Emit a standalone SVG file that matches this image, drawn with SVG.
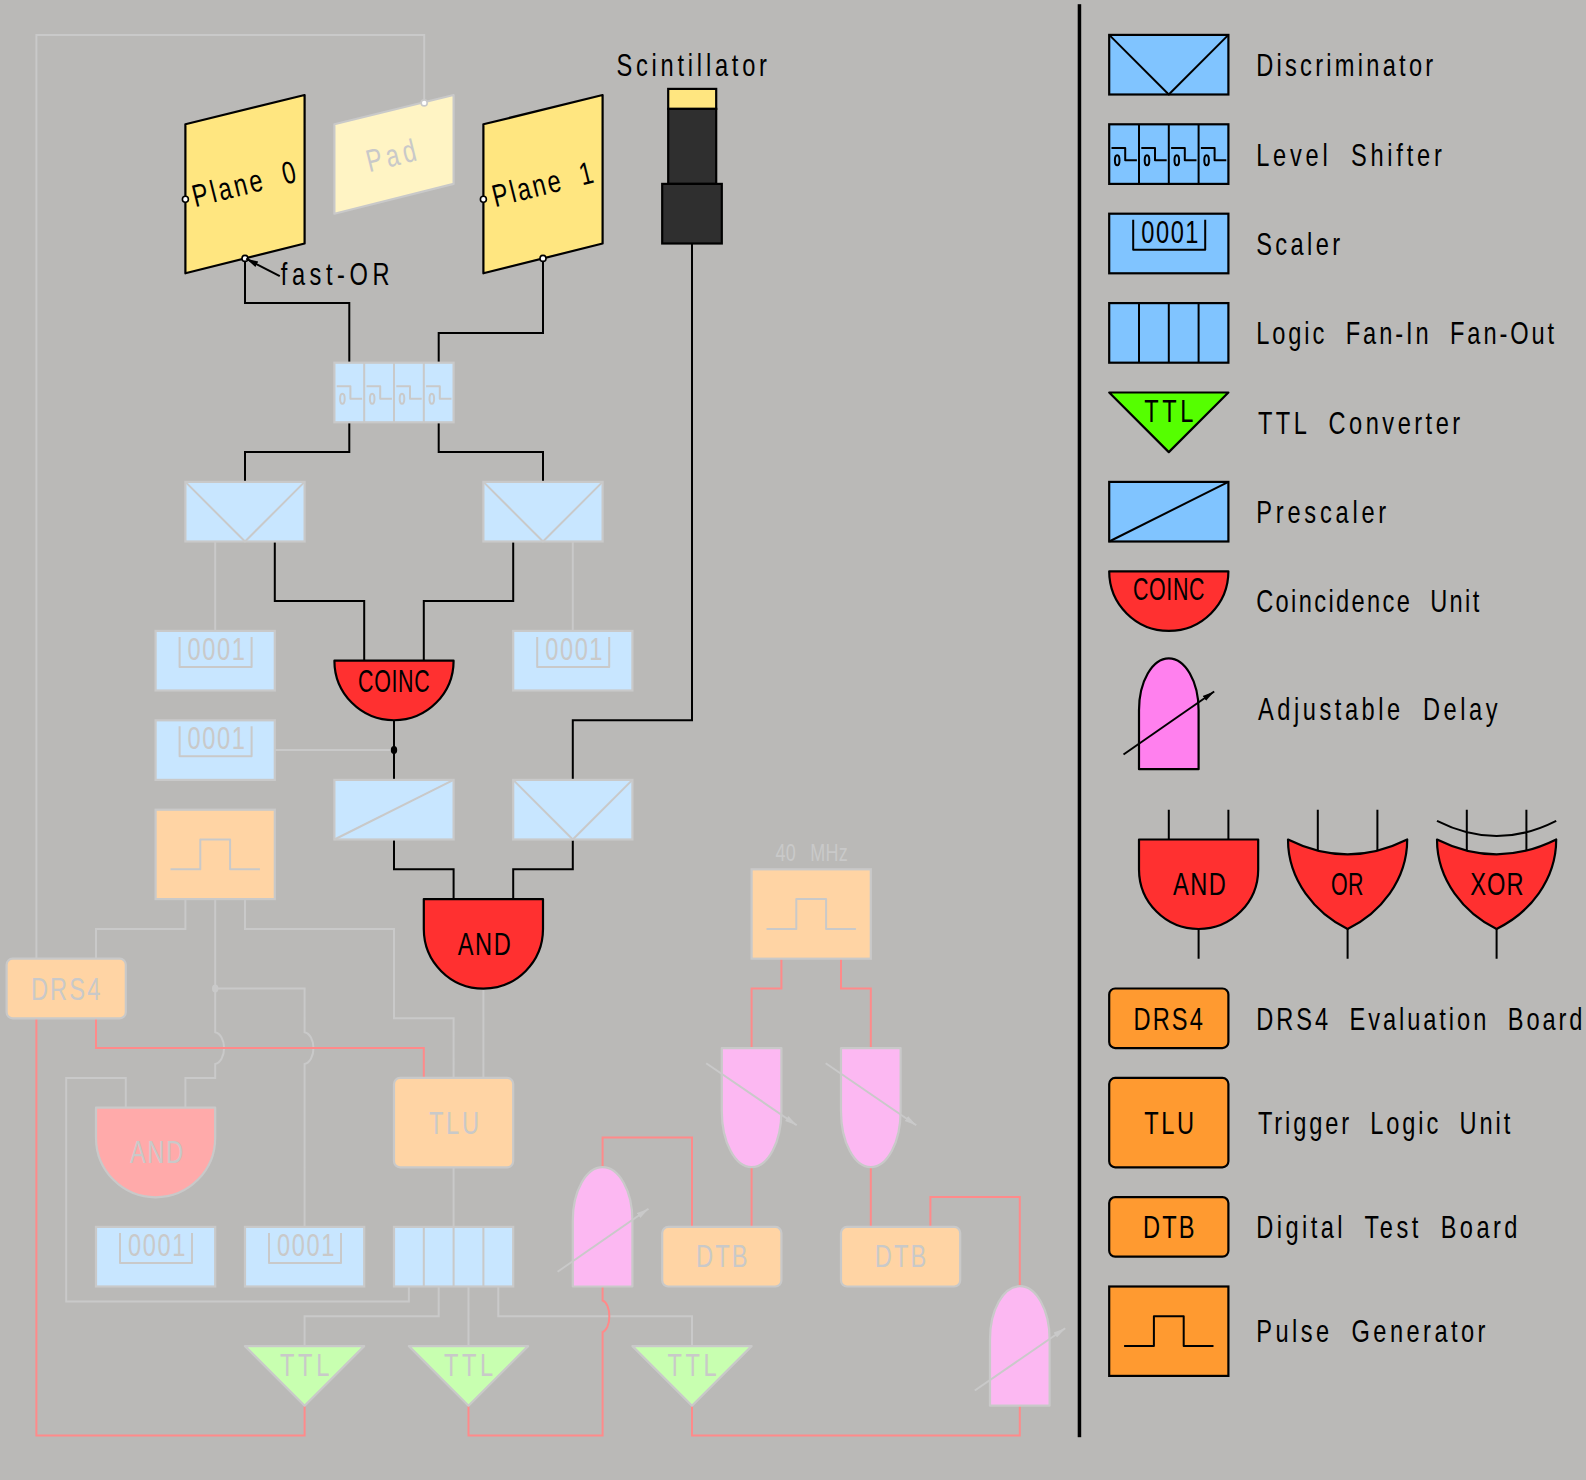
<svg xmlns="http://www.w3.org/2000/svg" width="1586" height="1480" viewBox="0 0 1586 1480">
<style>
text{font-family:"Liberation Sans",Arial,sans-serif;font-size:31.5px;word-spacing:12px}
polygon,path{stroke-linejoin:round}
.k{fill:#000}.g{fill:#c9c9c9}
.ln{fill:none;stroke-width:2;stroke-linejoin:miter}
.lk{stroke:#000}.lg{stroke:#c9c9c9}.lr{stroke:#ff8a8a}
.s{fill:none;stroke:#000;stroke-width:2}
.sg{fill:none;stroke:#c9c9c9;stroke-width:2}
.bb,.bf,.ry,.rf,.oy,.of,.gy,.gf,.my,.mf,.yy,.yf,.pk,.pg{stroke-width:2.2}
.bb{fill:#80c4ff;stroke:#000}.bf{fill:#c8e6ff;stroke:#c9c9c9}
.ry{fill:#ff3030;stroke:#000}.rf{fill:#ffaaaa;stroke:#c9c9c9}
.oy{fill:#ff9a30;stroke:#000}.of{fill:#ffd4a4;stroke:#c9c9c9}
.gy{fill:#55ff00;stroke:#000}.gf{fill:#c8ffb0;stroke:#c9c9c9}
.my{fill:#ff80ee;stroke:#000}.mf{fill:#fcb8f2;stroke:#c9c9c9}
.yy{fill:#ffe680;stroke:#000}.yf{fill:#fff4c4;stroke:#c9c9c9}
.dk{fill:#2f2f2f;stroke:#000;stroke-width:2.2}
.tk{fill:#fff;stroke:#000;stroke-width:1.6}.tg{fill:#fff;stroke:#c9c9c9;stroke-width:1.6}
.arr{stroke:#000;stroke-width:2;marker-end:url(#ak)}.arg{stroke:#c9c9c9;stroke-width:2;marker-end:url(#ag)}
</style>
<defs>
<marker id="ak" markerUnits="userSpaceOnUse" markerWidth="14" markerHeight="10" refX="12" refY="4" orient="auto"><path d="M0,1 L12,4 L0,7Z" fill="#000"/></marker>
<marker id="ag" markerUnits="userSpaceOnUse" markerWidth="14" markerHeight="10" refX="12" refY="4" orient="auto"><path d="M0,1 L12,4 L0,7Z" fill="#c9c9c9"/></marker>
<path id="vv" d="M0,0 L59.6,59.6 L119.2,0"/>
<path id="dg" d="M0,59.6 L119.2,0"/>
<path id="fan" d="M29.8,0V59.6M59.6,0V59.6M89.4,0V59.6"/>
<path id="brk" d="M24,6V36H96V6"/>
<path id="pul" d="M14.9,59.6H44.7V29.8H74.5V59.6H104.3"/>
<g id="ls">
<path d="M29.8,0V59.6M59.6,0V59.6M89.4,0V59.6M2.3,23.6H16V36H27.7M32.1,23.6H45.8V36H57.5M61.9,23.6H75.6V36H87.3M91.7,23.6H105.4V36H117.1"/>
<ellipse cx="8" cy="36" rx="2.3" ry="5"/><ellipse cx="37.8" cy="36" rx="2.3" ry="5"/><ellipse cx="67.6" cy="36" rx="2.3" ry="5"/><ellipse cx="97.4" cy="36" rx="2.3" ry="5"/>
</g>
</defs>
<rect width="1586" height="1480" fill="#bab9b7"/>
<g transform="translate(.2 .2)">
<rect id="divider" x="1077.5" y="4" width="3.5" height="1433" fill="#000"/>

<g id="connectors">
<path class="ln lk" d="M244.8,258V302.9H349.1V362.5M542.8,258V332.7H438.5V362.5M349.1,422.1V451.9H244.8V481.7M438.5,422.1V451.9H542.8V481.7M274.6,541.3V600.9H364V660.5M513,541.3V600.9H423.6V660.5M691.8,243.3V720.1H572.6V779.7M393.8,720.1V779.7M393.8,839.3V869.1H453.4V898.9M572.6,839.3V869.1H513V898.9"/>
<path class="ln lg" d="M424,102.7V34.7H36.2V958.5M215,541.3V630.7M572.6,541.3V630.7M274.6,749.9H393.8M185.2,898.9V928.7H95.8V958.5M215,898.9V1032A10,16 0 0 1 215,1063.8V1077.7H185.2V1107.5M215,988.3H304.4V1032A10,16 0 0 1 304.4,1063.8V1226.7M244.8,898.9V928.7H393.8V1018.1H453.4V1077.7M483.2,988.3V1077.7M453.4,1167.1V1226.7M125.6,1107.5V1077.7H66V1301.2H408.7V1286.3M438.5,1286.3V1316.1H304.4V1345.9M468.3,1286.3V1345.9M498.1,1286.3V1316.1H691.8V1345.9"/>
<path class="ln lr" d="M95.8,1018.1V1047.9H423.6V1077.7M36.2,1018.1V1435.3H304.4V1405.5M468.3,1405.5V1435.3H602.4V1331.9A8,16 0 0 0 602.4,1300.3V1286.3M602.4,1167.1V1137.3H691.8V1226.7M781.2,958.5V988.3H751.4V1047.9M840.8,958.5V988.3H870.6V1047.9M751.4,1167.1V1226.7M870.6,1167.1V1226.7M930.2,1226.7V1196.9H1019.6V1286.3M691.8,1405.5V1435.3H1019.6V1405.5"/>
<ellipse cx="393.8" cy="749.9" rx="3.2" ry="4" fill="#000"/>
<ellipse cx="215" cy="988.3" rx="3.2" ry="4" fill="#c9c9c9"/>
</g>

<g id="plane0"><polygon class="yy" points="185.2,124.1 304.4,94.8 304.4,243.3 185.2,273.1"/><circle class="tk" cx="185.2" cy="199" r="3"/><circle class="tk" cx="244.8" cy="258.2" r="3"/><text class="k" transform="translate(195 207) rotate(-14) scale(.75 1)" textLength="141">Plane 0</text></g>
<g id="pad"><polygon class="yf" points="334.2,124.1 453.4,94.8 453.4,183.7 334.2,213.5"/><circle class="tg" cx="424" cy="102.7" r="3"/><text class="g" transform="translate(369 172) rotate(-14) scale(.75 1)" textLength="67">Pad</text></g>
<g id="plane1"><polygon class="yy" points="483.2,124.1 602.4,94.8 602.4,243.3 483.2,273.1"/><circle class="tk" cx="483.2" cy="199" r="3"/><circle class="tk" cx="542.8" cy="258.2" r="3"/><text class="k" transform="translate(495 207) rotate(-14) scale(.75 1)" textLength="137">Plane 1</text></g>
<g id="fast-or"><line class="arr" x1="279.6" y1="276" x2="246" y2="258.5"/><text class="k" transform="matrix(.75 0 0 1 280.6 284.3)" textLength="145">fast-OR</text></g>
<g id="scintillator"><rect class="yy" x="668" y="88.7" width="48" height="20"/><rect class="dk" x="668" y="108.7" width="48" height="75"/><rect class="dk" x="662" y="183.7" width="59.6" height="59.6"/><text class="k" transform="matrix(.75 0 0 1 616.3 75.3)" textLength="200.6">Scintillator</text></g>

<g id="level-shifter"><rect class="bf" x="334.2" y="362.5" width="119.2" height="59.6"/><use class="sg" href="#ls" x="334.2" y="362.5"/></g>
<g id="disc0"><rect class="bf" x="185.2" y="481.7" width="119.2" height="59.6"/><use class="sg" href="#vv" x="185.2" y="481.7"/></g>
<g id="disc1"><rect class="bf" x="483.2" y="481.7" width="119.2" height="59.6"/><use class="sg" href="#vv" x="483.2" y="481.7"/></g>
<g id="scaler0"><rect class="bf" x="155.4" y="630.7" width="119.2" height="59.6"/><use class="sg" href="#brk" x="155.4" y="630.7"/><text class="g" transform="matrix(.75 0 0 1 187.4 659.3)" textLength="76.4">0001</text></g>
<g id="scaler1"><rect class="bf" x="513" y="630.7" width="119.2" height="59.6"/><use class="sg" href="#brk" x="513" y="630.7"/><text class="g" transform="matrix(.75 0 0 1 545 659.3)" textLength="76.4">0001</text></g>
<g id="scaler2"><rect class="bf" x="155.4" y="720.1" width="119.2" height="59.6"/><use class="sg" href="#brk" x="155.4" y="720.1"/><text class="g" transform="matrix(.75 0 0 1 187.4 748.7)" textLength="76.4">0001</text></g>
<g id="coinc"><path class="ry" d="M334.2,660.5H453.4A59.6,59.6 0 0 1 334.2,660.5Z"/><text class="k" transform="matrix(.68 0 0 1 357.9 692)" textLength="105.3">COINC</text></g>
<g id="prescaler"><rect class="bf" x="334.2" y="779.7" width="119.2" height="59.6"/><use class="sg" href="#dg" x="334.2" y="779.7"/></g>
<g id="disc2"><rect class="bf" x="513" y="779.7" width="119.2" height="59.6"/><use class="sg" href="#vv" x="513" y="779.7"/></g>
<g id="pulse0"><rect class="of" x="155.4" y="809.5" width="119.2" height="89.4"/><use class="sg" href="#pul" x="155.4" y="809.5"/></g>
<g id="and-main"><path class="ry" d="M423.6,898.9H542.8V928.9A59.6,59.6 0 0 1 423.6,928.9Z"/><text class="k" transform="matrix(.75 0 0 1 457.6 954.3)" textLength="70.7">AND</text></g>
<g id="drs4"><rect class="of" x="6.4" y="958.5" width="119.2" height="59.6" rx="6"/><text class="g" transform="matrix(.75 0 0 1 30.7 999.3)" textLength="92.5">DRS4</text></g>
<g id="and-pale"><path class="rf" d="M95.8,1107.5H215V1137.5A59.6,59.6 0 0 1 95.8,1137.5Z"/><text class="g" transform="matrix(.75 0 0 1 129.8 1163)" textLength="70.7">AND</text></g>
<g id="tlu"><rect class="of" x="393.8" y="1077.7" width="119.2" height="89.4" rx="6"/><text class="g" transform="matrix(.75 0 0 1 428.8 1133.3)" textLength="66.6">TLU</text></g>
<g id="scaler3"><rect class="bf" x="95.8" y="1226.7" width="119.2" height="59.6"/><use class="sg" href="#brk" x="95.8" y="1226.7"/><text class="g" transform="matrix(.75 0 0 1 127.8 1255.3)" textLength="76.4">0001</text></g>
<g id="scaler4"><rect class="bf" x="244.8" y="1226.7" width="119.2" height="59.6"/><use class="sg" href="#brk" x="244.8" y="1226.7"/><text class="g" transform="matrix(.75 0 0 1 276.8 1255.3)" textLength="76.4">0001</text></g>
<g id="fan-main"><rect class="bf" x="393.8" y="1226.7" width="119.2" height="59.6"/><use class="sg" href="#fan" x="393.8" y="1226.7"/></g>
<g id="ttl0"><polygon class="gf" points="244.8,1345.9 364,1345.9 304.4,1405.5"/><text class="g" transform="matrix(.75 0 0 1 279.8 1375.3)" textLength="65.7">TTL</text></g>
<g id="ttl1"><polygon class="gf" points="408.7,1345.9 527.9,1345.9 468.3,1405.5"/><text class="g" transform="matrix(.75 0 0 1 443.7 1375.3)" textLength="65.7">TTL</text></g>
<g id="ttl2"><polygon class="gf" points="632.2,1345.9 751.4,1345.9 691.8,1405.5"/><text class="g" transform="matrix(.75 0 0 1 667.2 1375.3)" textLength="65.7">TTL</text></g>
<g id="pulse1"><rect class="of" x="751.4" y="869.1" width="119.2" height="89.4"/><use class="sg" href="#pul" x="751.4" y="869.1"/><text class="g" style="font-size:24px" transform="matrix(.75 0 0 1 775.2 860.8)" textLength="96.4">40 MHz</text></g>
<g id="delay0"><path class="mf" d="M572.6,1286.3V1220A29.8,53 0 0 1 632.2,1220V1286.3Z"/><line class="arg" x1="557.4" y1="1271.5" x2="648.3" y2="1208.5"/></g>
<g id="delay1"><path class="mf" d="M721.6,1047.9H781.2V1111A29.8,56 0 0 1 721.6,1111Z"/><line class="arg" x1="706" y1="1063" x2="796.5" y2="1125"/></g>
<g id="delay2"><path class="mf" d="M840.8,1047.9H900.4V1111A29.8,56 0 0 1 840.8,1111Z"/><line class="arg" x1="825.5" y1="1063" x2="916" y2="1125"/></g>
<g id="delay3"><path class="mf" d="M989.8,1405.5V1339A29.8,53 0 0 1 1049.4,1339V1405.5Z"/><line class="arg" x1="974.6" y1="1390.3" x2="1065" y2="1328"/></g>
<g id="dtb0"><rect class="of" x="662" y="1226.7" width="119.2" height="59.6" rx="6"/><text class="g" transform="matrix(.75 0 0 1 695.7 1267.1)" textLength="68.8">DTB</text></g>
<g id="dtb1"><rect class="of" x="840.8" y="1226.7" width="119.2" height="59.6" rx="6"/><text class="g" transform="matrix(.75 0 0 1 874.5 1267.1)" textLength="68.8">DTB</text></g>

<g id="legend-discriminator"><rect class="bb" x="1109" y="34.7" width="119.2" height="59.6"/><use class="s" href="#vv" x="1109" y="34.7"/><text class="k" transform="matrix(.75 0 0 1 1256 76)" textLength="236">Discriminator</text></g>
<g id="legend-level-shifter"><rect class="bb" x="1109" y="124.1" width="119.2" height="59.6"/><use class="s" href="#ls" x="1109" y="124.1"/><text class="k" transform="matrix(.75 0 0 1 1256 165.3)" textLength="247.5">Level Shifter</text></g>
<g id="legend-scaler"><rect class="bb" x="1109" y="213.5" width="119.2" height="59.6"/><use class="s" href="#brk" x="1109" y="213.5"/><text class="k" transform="matrix(.75 0 0 1 1141 242.3)" textLength="76.4">0001</text><text class="k" transform="matrix(.75 0 0 1 1256 255)" textLength="112">Scaler</text></g>
<g id="legend-fan"><rect class="bb" x="1109" y="302.9" width="119.2" height="59.6"/><use class="s" href="#fan" x="1109" y="302.9"/><text class="k" transform="matrix(.75 0 0 1 1256 343.3)" textLength="397.3">Logic Fan-In Fan-Out</text></g>
<g id="legend-ttl"><polygon class="gy" points="1109,392.3 1228.2,392.3 1168.6,451.9"/><text class="k" transform="matrix(.75 0 0 1 1144 421.7)" textLength="65.7">TTL</text><text class="k" transform="matrix(.75 0 0 1 1257.7 433.3)" textLength="269.7">TTL Converter</text></g>
<g id="legend-prescaler"><rect class="bb" x="1109" y="481.7" width="119.2" height="59.6"/><use class="s" href="#dg" x="1109" y="481.7"/><text class="k" transform="matrix(.75 0 0 1 1256 522.7)" textLength="173.4">Prescaler</text></g>
<g id="legend-coinc"><path class="ry" d="M1109,571.1H1228.2A59.6,59.6 0 0 1 1109,571.1Z"/><text class="k" transform="matrix(.68 0 0 1 1132.7 600)" textLength="105.3">COINC</text><text class="k" transform="matrix(.75 0 0 1 1256 611.7)" textLength="297.4">Coincidence Unit</text></g>
<g id="legend-delay"><path class="my" d="M1138.8,769V710A29.8,52 0 0 1 1198.4,710V769Z"/><line class="arr" x1="1123.3" y1="754.3" x2="1214" y2="691.3"/><text class="k" transform="matrix(.75 0 0 1 1257.7 720)" textLength="319.5">Adjustable Delay</text></g>
<g id="legend-and"><path class="s" d="M1168.6,809.5V839.3M1228.2,809.5V839.3M1198.4,928.7V958.5"/><path class="ry" d="M1138.8,839.3H1258V869.3A59.6,59.6 0 0 1 1138.8,869.3Z"/><text class="k" transform="matrix(.75 0 0 1 1172.7 894.3)" textLength="70.7">AND</text></g>
<g id="legend-or"><path class="s" d="M1317.6,809.5V851M1377.2,809.5V851M1347.4,928.7V958.5"/><path class="ry" d="M1287.8,839.3Q1347.4,869 1407,839.3C1407,880 1380,913 1347.4,928.7C1315,913 1287.8,880 1287.8,839.3Z"/><text class="k" transform="matrix(.68 0 0 1 1330.7 894.3)" textLength="48">OR</text></g>
<g id="legend-xor"><path class="s" d="M1466.6,809.5V851M1526.2,809.5V851M1496.4,928.7V958.5M1436.8,820.7Q1496.4,851 1556,820.7"/><path class="ry" d="M1436.8,839.3Q1496.4,869 1556,839.3C1556,880 1529,913 1496.4,928.7C1464,913 1436.8,880 1436.8,839.3Z"/><text class="k" transform="matrix(.75 0 0 1 1470 894.3)" textLength="71.1">XOR</text></g>
<g id="legend-drs4"><rect class="oy" x="1109" y="988.3" width="119.2" height="59.6" rx="6"/><text class="k" transform="matrix(.75 0 0 1 1133.3 1029.3)" textLength="92.5">DRS4</text><text class="k" transform="matrix(.75 0 0 1 1256 1029.3)" textLength="435.1">DRS4 Evaluation Board</text></g>
<g id="legend-tlu"><rect class="oy" x="1109" y="1077.7" width="119.2" height="89.4" rx="6"/><text class="k" transform="matrix(.75 0 0 1 1144 1133.3)" textLength="66.6">TLU</text><text class="k" transform="matrix(.75 0 0 1 1257.7 1133.3)" textLength="336.4">Trigger Logic Unit</text></g>
<g id="legend-dtb"><rect class="oy" x="1109" y="1196.9" width="119.2" height="59.6" rx="6"/><text class="k" transform="matrix(.75 0 0 1 1142.7 1237.3)" textLength="68.8">DTB</text><text class="k" transform="matrix(.75 0 0 1 1256 1237.3)" textLength="348.4">Digital Test Board</text></g>
<g id="legend-pulse"><rect class="oy" x="1109" y="1286.3" width="119.2" height="89.4"/><use class="s" href="#pul" x="1109" y="1286.3"/><text class="k" transform="matrix(.75 0 0 1 1256 1341.7)" textLength="305.7">Pulse Generator</text></g>
</g>
</svg>
